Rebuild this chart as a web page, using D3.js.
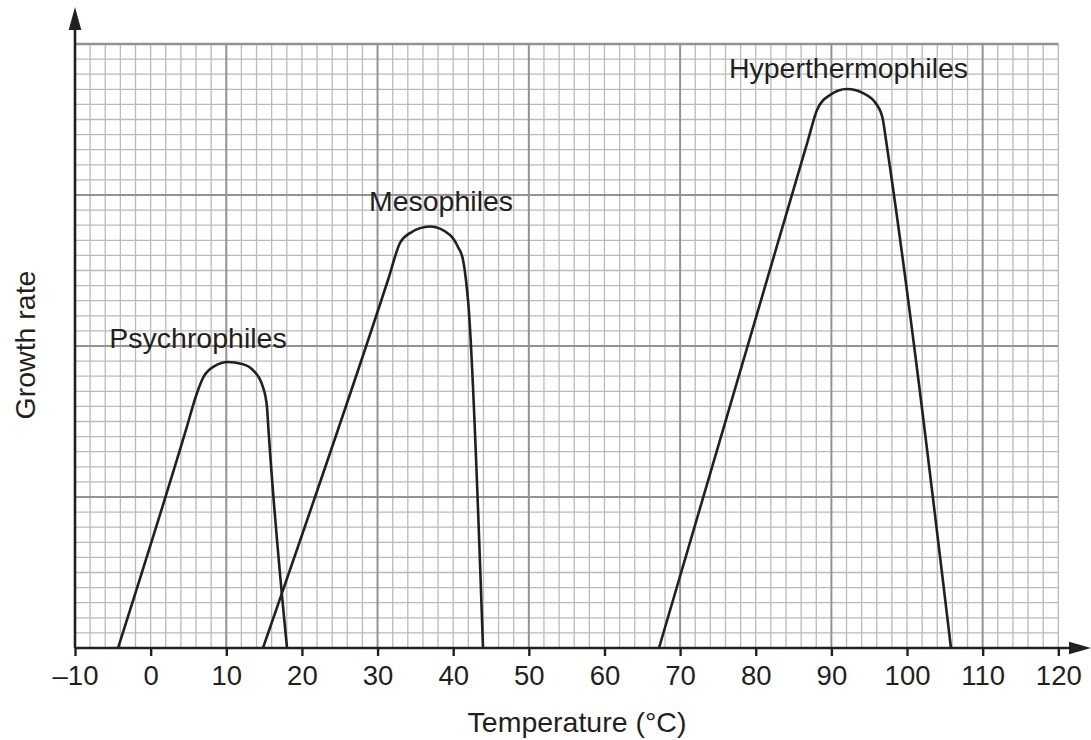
<!DOCTYPE html>
<html>
<head>
<meta charset="utf-8">
<script src="https://cdn.jsdelivr.net/npm/d3@7"></script>
<style>
  html, body { margin: 0; padding: 0; background: #fff; }
  svg { display: block; }
  text { font-family: "Liberation Sans", Arial, Helvetica, sans-serif; fill: #231f20; }
</style>
</head>
<body>
<svg id="chart" width="1091" height="740"></svg>
<script>
// ---- data (temperature °C, growth rate in grid units) ----
const xTicks = [-10, 0, 10, 20, 30, 40, 50, 60, 70, 80, 90, 100, 110, 120];
const psychrophiles = [
  [-4.31, 0], [4.67, 14.44], [6.13, 16.89], [6.92, 17.88], [8.51, 18.68],
  [10.23, 18.94], [12.08, 18.81], [13.53, 18.41], [14.85, 17.28],
  [15.38, 15.96], [15.58, 14.44], [18.03, 0]
];
const mesophiles = [
  [14.85, 0], [31.38, 24.37], [32.97, 26.82], [34.29, 27.48], [36.93, 27.91],
  [39.58, 27.35], [40.63, 26.56], [41.30, 25.70], [41.69, 24.37],
  [41.96, 23.05], [43.94, 0]
];
const hyperthermophiles = [
  [67.21, 0], [86.91, 33.64], [88.10, 35.63], [89.81, 36.62], [92.06, 37.02],
  [94.18, 36.75], [96.03, 35.96], [96.82, 34.97], [97.22, 33.64], [105.81, 0]
];
const curveLabels = [
  { name: "Psychrophiles", t: 6.26, g: 19.87 },
  { name: "Mesophiles", t: 38.39, g: 28.94 },
  { name: "Hyperthermophiles", t: 92.26, g: 37.75 }
];
const xTitle = "Temperature (°C)";
const yTitle = "Growth rate";

// ---- layout ----
const svg = d3.select("#chart");
const x = d3.scaleLinear().domain([-10, 120]).range([75, 1058.3]);
const y = d3.scaleLinear().domain([0, 40]).range([648, 44]);
const ink = "#231f20";
const fs = 28.5;

// grid
const grid = svg.append("g");
const minorX = d3.range(-8, 121, 2).filter(v => (v + 10) % 20 !== 0);
const majorX = d3.range(10, 121, 20);
const minorY = d3.range(1, 40).filter(v => v % 10 !== 0);
const majorY = [10, 20, 30];

grid.selectAll(".mx").data(minorX).join("line")
  .attr("x1", d => x(d)).attr("x2", d => x(d))
  .attr("y1", y(0)).attr("y2", y(40))
  .attr("stroke", "#bababa").attr("stroke-width", 1.3);
grid.selectAll(".my").data(minorY).join("line")
  .attr("x1", x(-10)).attr("x2", x(120))
  .attr("y1", d => y(d)).attr("y2", d => y(d))
  .attr("stroke", "#bababa").attr("stroke-width", 1.3);
grid.selectAll(".Mx").data(majorX).join("line")
  .attr("x1", d => x(d)).attr("x2", d => x(d))
  .attr("y1", y(0)).attr("y2", y(40))
  .attr("stroke", "#939393").attr("stroke-width", 2);
grid.selectAll(".My").data(majorY).join("line")
  .attr("x1", x(-10)).attr("x2", x(120))
  .attr("y1", d => y(d)).attr("y2", d => y(d))
  .attr("stroke", "#939393").attr("stroke-width", 2);
grid.append("line")
  .attr("x1", x(-10)).attr("x2", x(120))
  .attr("y1", y(40)).attr("y2", y(40))
  .attr("stroke", "#939393").attr("stroke-width", 2.4);

// curves
const line = d3.line().x(d => x(d[0])).y(d => y(d[1])).curve(d3.curveMonotoneX);
[psychrophiles, mesophiles, hyperthermophiles].forEach(s => {
  svg.append("path").attr("d", line(s))
    .attr("fill", "none").attr("stroke", ink).attr("stroke-width", 2.6)
    .attr("stroke-linejoin", "round");
});

// curve labels
svg.selectAll(".clabel").data(curveLabels).join("text")
  .attr("x", d => x(d.t)).attr("y", d => y(d.g))
  .attr("text-anchor", "middle").attr("font-size", fs)
  .text(d => d.name);

// x axis
const xAxis = d3.axisBottom(x).tickValues(xTicks).tickSize(8).tickPadding(9)
  .tickFormat(d => d < 0 ? "\u2013" + Math.abs(d) : String(d));
const gx = svg.append("g").attr("transform", `translate(0,${y(0)})`).call(xAxis);
gx.select(".domain").remove();
gx.selectAll(".tick line").attr("stroke", ink).attr("stroke-width", 2.4);
gx.selectAll(".tick text").attr("font-size", 27.5).attr("fill", ink)
  .attr("font-family", "'Liberation Sans', Arial, sans-serif");

// axis lines and arrows
svg.append("line").attr("x1", x(-10)).attr("x2", 1074).attr("y1", y(0)).attr("y2", y(0))
  .attr("stroke", ink).attr("stroke-width", 2.6);
svg.append("line").attr("x1", x(-10)).attr("x2", x(-10)).attr("y1", y(0)).attr("y2", 28)
  .attr("stroke", ink).attr("stroke-width", 2.6);
svg.append("path")
  .attr("d", `M${x(-10)},7 L${x(-10) - 6.3},30 L${x(-10) + 6.3},30 Z`).attr("fill", ink);
svg.append("path")
  .attr("d", `M1091,${y(0)} L1069,${y(0) - 6.3} L1069,${y(0) + 6.3} Z`).attr("fill", ink);

// titles
svg.append("text").attr("x", 577).attr("y", 732).attr("text-anchor", "middle")
  .attr("font-size", fs).text(xTitle);
svg.append("text").attr("transform", "translate(35,345) rotate(-90)")
  .attr("text-anchor", "middle").attr("font-size", fs).text(yTitle);
</script>
</body>
</html>
